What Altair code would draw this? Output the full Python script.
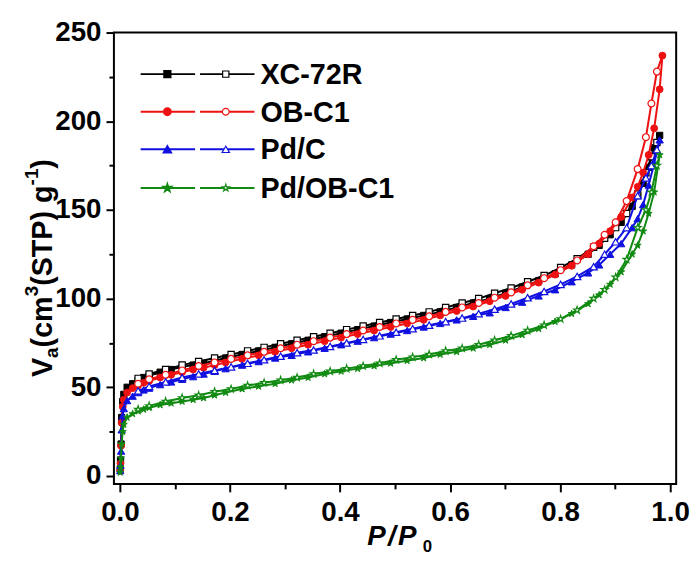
import altair as alt
import pandas as pd

# ---------------- data ----------------
SAMPLES = ["XC-72R", "OB-C1", "Pd/C", "Pd/OB-C1"]

P_ADS = [0.0005, 0.001, 0.002, 0.003, 0.005, 0.007, 0.013, 0.023, 0.033, 0.043,
         0.053, 0.073, 0.093, 0.113, 0.133, 0.152, 0.172, 0.192, 0.222, 0.252,
         0.282, 0.312, 0.342, 0.372, 0.402, 0.432, 0.462, 0.492, 0.522, 0.552,
         0.582, 0.612, 0.642, 0.672, 0.701, 0.731, 0.761, 0.791, 0.821, 0.851,
         0.871, 0.891, 0.911, 0.931, 0.941, 0.951, 0.961, 0.971, 0.981]
P_ADS_OBC1 = P_ADS + [0.986]

P_DES = [0.976, 0.966, 0.956, 0.941, 0.921, 0.901, 0.881, 0.861, 0.831, 0.801,
         0.771, 0.741, 0.711, 0.681, 0.652, 0.622, 0.592, 0.562, 0.532, 0.502,
         0.472, 0.442, 0.412, 0.382, 0.352, 0.322, 0.292, 0.262, 0.232, 0.202,
         0.172, 0.143, 0.113, 0.083, 0.053, 0.033]

V_ADS_XC72R = [4, 9, 18, 33, 42, 46, 50, 52, 54, 55.5,
               56.5, 58.5, 60, 61.5, 62.5, 63.5, 65, 66.5, 68.5, 70.5,
               72.5, 74.5, 76.5, 78.5, 80.5, 82.5, 84.5, 86.5, 88.5, 90.5,
               92.5, 95, 97.5, 100, 103, 106.5, 110, 114, 119, 125,
               130, 136, 143, 152, 158, 165, 174, 185, 192]
V_DES_XC72R = [188, 180, 171, 159, 148, 140, 134, 129, 122.5, 117.5,
               113, 109.5, 106, 103, 100, 97.5, 95, 92.5, 90.5, 88.5,
               86.5, 84.5, 82.5, 80.5, 78.5, 76.5, 74.5, 72.5, 70.5, 68.5,
               66.5, 64.5, 62.5, 60, 57.5, 55]

V_ADS_OBC1 = [3, 7, 17, 30, 39, 43, 47, 49.5, 51, 52.5,
              53.5, 55.5, 57, 58.5, 60, 61, 62.5, 64, 66, 68,
              70, 72, 74, 76, 78, 80, 82, 84, 86, 88,
              90.5, 93, 95.5, 98.5, 101.5, 105, 109, 113.5, 118.5, 125,
              131, 138, 146, 157, 163, 171, 181, 196, 218, 237]
V_DES_OBC1 = [228, 210, 191, 173, 155, 143, 136, 129.5, 121.5, 116,
              111.5, 107.5, 103.5, 100.5, 97.5, 95, 92.5, 90, 88, 86,
              84, 82, 80, 78, 76, 74, 72, 70, 68, 66,
              64, 62, 59.5, 57, 54.5, 52]

V_ADS_PDC = [3, 6, 14, 26, 34, 38, 42.5, 45, 47, 48.5,
             49.5, 51.5, 53, 54.5, 56, 57.5, 59, 60.5, 62.5, 64.5,
             66.5, 68, 70, 72, 74, 76, 78, 80, 82, 84,
             86, 88, 90, 92, 95, 98, 101.5, 105, 109.5, 114.5,
             119, 125, 131, 140, 145, 153, 164, 176, 189.5]
V_DES_PDC = [184, 175, 168, 158, 140, 132, 125, 118, 112.5, 108,
             104, 100.5, 97, 94, 91.5, 89, 87, 85, 83, 81,
             79, 77, 75, 73, 71, 69.5, 67.5, 65.5, 63.5, 61.5,
             59.5, 57.5, 55.5, 53, 50.5, 48]

V_ADS_PDOBC1 = [2, 5, 10, 18, 25, 29, 33, 35, 36.5, 37.5,
                38.5, 40, 41, 42, 43, 44, 45.5, 47, 49, 50.5,
                52, 54, 55.5, 57.5, 59, 60.5, 62, 63.5, 65, 66.5,
                68.5, 70, 72, 74, 76.5, 79.5, 83, 87, 91.5, 97,
                102, 108, 115, 125, 130, 138, 148, 160, 181]
V_DES_PDOBC1 = [175, 160, 150, 140, 122, 112, 105, 100, 93.5, 88.5,
                85, 82, 79, 76.5, 74, 72, 70.5, 68.5, 67, 65.5,
                63.5, 62, 60.5, 59, 57.5, 55.5, 54, 52.5, 51, 49,
                47.5, 45.5, 44, 42, 39.5, 37.5]

X_TICKS = [0.0, 0.1, 0.2, 0.3, 0.4, 0.5, 0.6, 0.7, 0.8, 0.9, 1.0]
Y_TICKS = [0, 25, 50, 75, 100, 125, 150, 175, 200, 225, 250]

P_ADS_BY = {"XC-72R": P_ADS, "OB-C1": P_ADS_OBC1, "Pd/C": P_ADS, "Pd/OB-C1": P_ADS}
V_ADS_BY = {"XC-72R": V_ADS_XC72R, "OB-C1": V_ADS_OBC1, "Pd/C": V_ADS_PDC, "Pd/OB-C1": V_ADS_PDOBC1}
V_DES_BY = {"XC-72R": V_DES_XC72R, "OB-C1": V_DES_OBC1, "Pd/C": V_DES_PDC, "Pd/OB-C1": V_DES_PDOBC1}

# ---------------- styles ----------------
FONT = "Liberation Sans"
COLORS = {"XC-72R": "#000000", "OB-C1": "#ee1111", "Pd/C": "#1010e0", "Pd/OB-C1": "#118a11"}
STAR = ("M0,-1L0.2245,-0.309L0.9511,-0.309L0.3633,0.118L0.5878,0.809L0,0.382"
        "L-0.5878,0.809L-0.3633,0.118L-0.9511,-0.309L-0.2245,-0.309Z")
SHAPES = {"XC-72R": "square", "OB-C1": "circle", "Pd/C": "triangle-up", "Pd/OB-C1": STAR}
SIZES = {"XC-72R": 40, "OB-C1": 48, "Pd/C": 55, "Pd/OB-C1": 55}

xscale = alt.Scale(domain=[-0.011, 1.011], nice=False, zero=False)
yscale = alt.Scale(domain=[-4.5, 250], nice=False, zero=False)

xaxis = alt.Axis(
    values=X_TICKS,
    labelExpr="round(datum.value*10) % 2 === 0 ? format(datum.value, '.1f') : ''",
    tickSize={"condition": {"test": "round(datum.value*10) % 2 === 1", "value": 5}, "value": 8},
    labelPadding=7, title=None,
)
yaxis = alt.Axis(
    values=Y_TICKS,
    labelExpr="datum.value % 50 === 0 ? datum.label : ''",
    tickSize={"condition": {"test": "datum.value % 50 !== 0", "value": 5}, "value": 8},
    labelPadding=5, title=None,
)

def enc():
    return dict(
        x=alt.X("P:Q", scale=xscale, axis=xaxis),
        y=alt.Y("V:Q", scale=yscale, axis=yaxis),
    )

layers = []
for s in SAMPLES:
    c = COLORS[s]
    pa, va, vd = P_ADS_BY[s], V_ADS_BY[s], V_DES_BY[s]
    ads = pd.DataFrame({"P": pa, "V": va})
    des_line = pd.DataFrame({"P": [pa[-1]] + P_DES, "V": [va[-1]] + vd})
    des_pts = pd.DataFrame({"P": P_DES, "V": vd})
    layers.append(alt.Chart(ads).mark_line(color=c, strokeWidth=2).encode(**enc()))
    layers.append(alt.Chart(ads).mark_point(shape=SHAPES[s], filled=True, fill=c, stroke=c,
                                            strokeWidth=1, size=SIZES[s], opacity=1).encode(**enc()))
    layers.append(alt.Chart(des_line).mark_line(color=c, strokeWidth=2).encode(**enc()))
    layers.append(alt.Chart(des_pts).mark_point(shape=SHAPES[s], filled=True, fill="white", stroke=c,
                                                strokeWidth=1.2, size=SIZES[s], opacity=1).encode(**enc()))

one = pd.DataFrame({"a": [0]})

# ---------------- legend ----------------
LEG_Y = [42, 80, 118, 157]
for i, s in enumerate(SAMPLES):
    c = COLORS[s]
    ly = LEG_Y[i]
    layers.append(alt.Chart(one).mark_rule(color=c, strokeWidth=2).encode(
        x=alt.value(27), x2=alt.value(82), y=alt.value(ly)))
    layers.append(alt.Chart(one).mark_rule(color=c, strokeWidth=2).encode(
        x=alt.value(87), x2=alt.value(142), y=alt.value(ly)))
    layers.append(alt.Chart(one).mark_point(shape=SHAPES[s], filled=True, fill=c, stroke=c,
                                            size=SIZES[s], opacity=1).encode(
        x=alt.value(54), y=alt.value(ly)))
    layers.append(alt.Chart(one).mark_point(shape=SHAPES[s], filled=True, fill="white", stroke=c,
                                            strokeWidth=1.2, size=SIZES[s], opacity=1).encode(
        x=alt.value(113), y=alt.value(ly)))
    layers.append(alt.Chart(one).mark_text(text=s, font=FONT, fontSize=29, fontWeight="bold",
                                           align="left", baseline="middle", color="black").encode(
        x=alt.value(148), y=alt.value(ly + 1)))

# ---------------- axis titles (rich text) ----------------
def txt(t, x, y, size, angle=0, style="normal"):
    return alt.Chart(one).mark_text(text=t, font=FONT, fontSize=size, fontWeight="bold",
                                    fontStyle=style, align="left", baseline="alphabetic",
                                    angle=angle, color="black").encode(x=alt.value(x), y=alt.value(y))

# x title: P/P0
layers.append(txt("P", 256, 518, 28, style="italic"))
layers.append(txt("/", 277, 518, 28, style="italic"))
layers.append(txt("P", 287, 518, 28, style="italic"))
layers.append(txt("0", 312, 525, 17))

# y title: Va(cm3(STP) g-1)
layers.append(txt("V", -63, 348, 29, angle=270))
layers.append(txt("a", -56, 328.7, 19, angle=270))
layers.append(txt("(cm", -63, 318.1, 29, angle=270))
layers.append(txt("3", -77, 266.5, 19, angle=270))
layers.append(txt("(STP) g", -63, 255.9, 29, angle=270))
layers.append(txt("-1", -77, 154.4, 19, angle=270))
layers.append(txt(")", -63, 137.5, 29, angle=270))

chart = alt.layer(*layers).properties(
    width=568, height=456,
    padding={"left": 107, "top": 22, "right": 16, "bottom": 69},
    autosize=alt.AutoSizeParams(type="none"),
).configure_view(
    stroke="black", strokeWidth=2
).configure_axis(
    domain=False, grid=False, tickColor="black", tickWidth=2,
    labelFont=FONT, labelFontSize=28, labelFontWeight="bold", labelColor="black",
)

chart.save("out.html", embed_options={"renderer": "svg", "actions": False})
